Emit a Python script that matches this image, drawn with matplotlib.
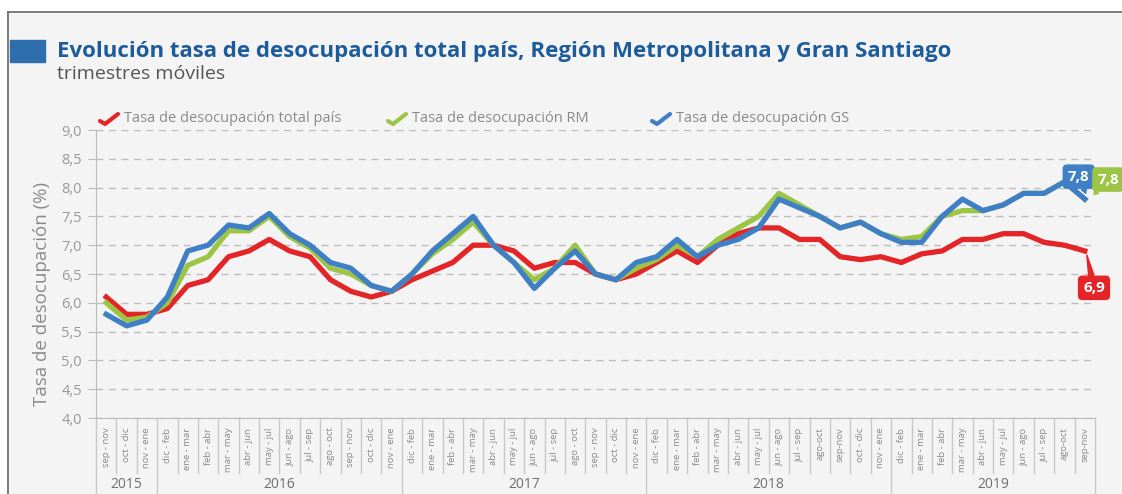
import matplotlib
matplotlib.use("Agg")
import matplotlib.pyplot as plt
import matplotlib.transforms as mtransforms
from matplotlib.lines import Line2D
from matplotlib.patches import Rectangle

plt.rcParams['font.family'] = ['Open Sans', 'DejaVu Sans']

# datos: trimestres moviles sep-nov 2015 .. sep-nov 2019
meses = ["dic - feb", "ene - mar", "feb - abr", "mar - may", "abr - jun", "may - jul",
         "jun - ago", "jul - sep", "ago - oct", "sep - nov", "oct - dic", "nov - ene"]
etiquetas = (["sep - nov", "oct - dic", "nov - ene"] + meses + meses
             + meses[:8] + ["ago-oct", "sep-nov", "oct - dic", "nov - ene"]
             + meses[:8] + ["ago-oct", "sep-nov"])
anios = ["2015", "2016", "2017", "2018", "2019"]
n_por_anio = [3, 12, 12, 12, 10]

total_pais = [6.1, 5.8, 5.8,
              5.9, 6.3, 6.4, 6.8, 6.9, 7.1, 6.9, 6.8, 6.4, 6.2, 6.1, 6.2,
              6.4, 6.55, 6.7, 7.0, 7.0, 6.9, 6.6, 6.7, 6.7, 6.5, 6.4, 6.5,
              6.7, 6.9, 6.7, 7.0, 7.2, 7.3, 7.3, 7.1, 7.1, 6.8, 6.75, 6.8,
              6.7, 6.85, 6.9, 7.1, 7.1, 7.2, 7.2, 7.05, 7.0, 6.9]
rm = [6.0, 5.7, 5.75,
      6.0, 6.65, 6.8, 7.25, 7.25, 7.5, 7.15, 6.95, 6.6, 6.5, 6.3, 6.2,
      6.5, 6.85, 7.1, 7.4, 7.0, 6.7, 6.4, 6.6, 7.0, 6.5, 6.4, 6.6,
      6.75, 7.0, 6.8, 7.1, 7.3, 7.5, 7.9, 7.7, 7.5, 7.3, 7.4, 7.2,
      7.1, 7.15, 7.5, 7.6, 7.6, 7.7, 7.9, 7.9, 8.1, 7.8]
gs = [5.8, 5.6, 5.7,
      6.1, 6.9, 7.0, 7.35, 7.3, 7.55, 7.2, 7.0, 6.7, 6.6, 6.3, 6.2,
      6.5, 6.9, 7.2, 7.5, 7.0, 6.7, 6.25, 6.6, 6.9, 6.5, 6.4, 6.7,
      6.8, 7.1, 6.8, 7.0, 7.1, 7.3, 7.8, 7.65, 7.5, 7.3, 7.4, 7.2,
      7.05, 7.05, 7.5, 7.8, 7.6, 7.7, 7.9, 7.9, 8.1, 7.8]

ROJO = "#e42528"
VERDE = "#9cc445"
AZUL = "#3f7fc6"
GRIS = "#8a8a8a"

W, H = 1122, 494


def fx(px):
    return px / W


def fy(py):
    return 1 - py / H


fig = plt.figure(figsize=(W / 100, H / 100), dpi=100, facecolor="#f4f4f4")

# marco exterior
fig.add_artist(Rectangle((0, fy(12)), 1, 1 - fy(12), transform=fig.transFigure, color="white", zorder=0))
fig.add_artist(Rectangle((0, 0), fx(8), 1, transform=fig.transFigure, color="white", zorder=0))
fig.add_artist(Line2D([fx(8), 1], [fy(12), fy(12)], transform=fig.transFigure, color="#666666", lw=1.2))
fig.add_artist(Line2D([fx(8), fx(8)], [0, fy(12)], transform=fig.transFigure, color="#666666", lw=1.2))

# titulo
fig.add_artist(Rectangle((fx(10), fy(62)), fx(35), fy(40) - fy(62), transform=fig.transFigure,
                         color="#2e6eac"))
fig.text(fx(57), fy(51), "Evolución tasa de desocupación total país, Región Metropolitana y Gran Santiago",
         fontsize=16, fontweight="bold", color="#1d5c9c", va="center", ha="left")
fig.text(fx(57), fy(74), "trimestres móviles", fontsize=14, color="#555555", va="center", ha="left")

ax = fig.add_axes([fx(96), fy(418), fx(1095) - fx(96), fy(130) - fy(418)])
ax.set_facecolor("#f4f4f4")
x = list(range(len(etiquetas)))

ax.plot(x, total_pais, color=ROJO, lw=3.8, solid_joinstyle="round", zorder=3)
ax.plot(x, rm, color=VERDE, lw=3.8, solid_joinstyle="round", zorder=4)
ax.plot(x, gs, color=AZUL, lw=3.8, solid_joinstyle="round", zorder=5)

ax.set_xlim(-0.5, len(x) - 0.5)
ax.set_ylim(4, 9)
yt = [4 + 0.5 * k for k in range(11)]
ax.set_yticks(yt)
ax.set_yticklabels([f"{v:.1f}".replace(".", ",") for v in yt], fontsize=10.5, color="#999999")
ax.yaxis.grid(True, linestyle=(0, (5, 4)), color="#bdbdbd", lw=1)
ax.set_axisbelow(True)
ax.tick_params(axis="y", length=6, color="#bbbbbb", pad=4)

ax.set_xticks(x)
ax.set_xticklabels(etiquetas, rotation=90, fontsize=6.8, color=GRIS, va="top", ha="center")
ax.tick_params(axis="x", length=0, pad=7)

for s in ["top", "right"]:
    ax.spines[s].set_visible(False)
ax.spines["left"].set_color("#bbbbbb")
ax.spines["bottom"].set_color("#bbbbbb")

ax.set_ylabel("Tasa de desocupación (%)", fontsize=13.5, color=GRIS)
ax.yaxis.set_label_coords(-0.045, 0.43)

# separadores bajo el eje
trans = mtransforms.blended_transform_factory(ax.transData, ax.transAxes)
limites = [0]
for n in n_por_anio:
    limites.append(limites[-1] + n)
for i in range(len(x) + 1):
    y1 = -0.27 if i in limites else -0.19
    ax.add_line(Line2D([i - 0.5, i - 0.5], [0, y1], transform=trans, color="#c8c8c8", lw=1, clip_on=False))
for k, a in enumerate(anios):
    c = (limites[k] + limites[k + 1] - 1) / 2
    ax.text(c, -0.23, a, transform=trans, fontsize=10, color="#6f6f6f", ha="center", va="center")

# leyenda
leyenda = [(100, "Tasa de desocupación total país", ROJO),
           (388, "Tasa de desocupación RM", VERDE),
           (652, "Tasa de desocupación GS", AZUL)]
for px, txt, col in leyenda:
    fig.add_artist(Line2D([fx(px), fx(px + 5), fx(px + 18)], [fy(121), fy(124), fy(114)],
                          transform=fig.transFigure, color=col, lw=3, solid_capstyle="round"))
    fig.text(fx(px + 24), fy(119), txt, fontsize=10.5, color=GRIS, va="center", ha="left")

# etiquetas finales
n = len(x) - 1
callouts = [(gs[-1], AZUL, 47.7, 8.19, n + 0.05, gs[-1] + 0.1),
            (rm[-1], VERDE, 49.15, 8.14, n + 0.45, rm[-1] + 0.08),
            (total_pais[-1], ROJO, 48.45, 6.26, n + 0.1, total_pais[-1] - 0.07)]
for val, col, tx, ty, ax_, ay_ in callouts:
    ax.annotate(f"{val:.1f}".replace(".", ","), xy=(ax_, ay_), xytext=(tx, ty),
                textcoords="data", fontsize=11, fontweight="bold", color="white",
                ha="center", va="center", annotation_clip=False, zorder=10,
                bbox=dict(boxstyle="round,pad=0.3,rounding_size=0.25", fc=col, ec=col),
                arrowprops=dict(arrowstyle="wedge,tail_width=0.35,shrink_factor=0.5", fc=col, ec=col,
                                shrinkA=0, shrinkB=0))

fig.savefig("out.png", dpi=100, facecolor=fig.get_facecolor())
